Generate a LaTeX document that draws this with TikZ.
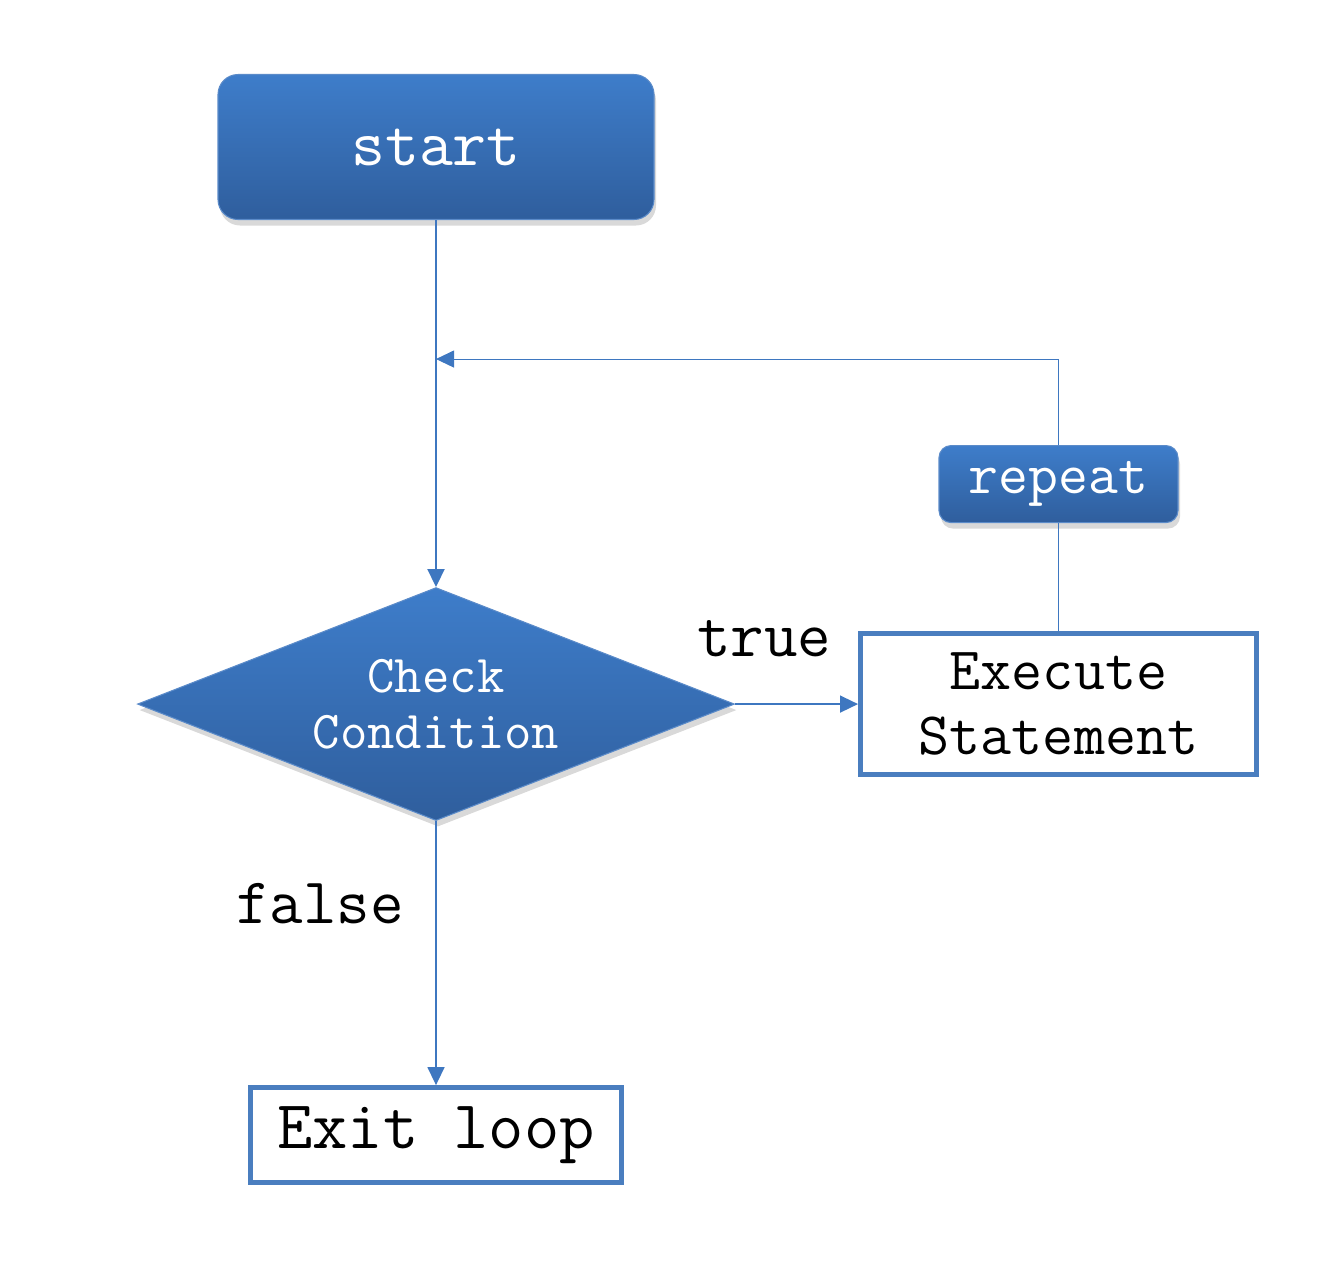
\documentclass[tikz,border=0pt]{standalone}
\usepackage{fontspec}
\usepackage{xcolor}
\definecolor{acc}{HTML}{3E77C0}
\definecolor{topc}{HTML}{3E7DCA}
\definecolor{botc}{HTML}{2F5E9D}
\definecolor{edge}{HTML}{4A7EBF}
\usetikzlibrary{arrows.meta,positioning,shapes.geometric,shadows}
\tikzset{
  >={Triangle[length=3.6mm,width=3.4mm]},
  blk/.style={draw=acc!85!white,line width=0.6pt,top color=topc,bottom color=botc,text=white,align=center,
    drop shadow={shadow xshift=0.4mm,shadow yshift=-1.2mm,opacity=0.3}},
  rbox/.style={blk,rounded corners=4mm,minimum width=8.72cm,minimum height=2.9cm,font=\ttfamily\fontsize{37.5}{45}\selectfont},
  sbox/.style={blk,rounded corners=2.4mm,minimum width=4.78cm,minimum height=1.54cm,font=\ttfamily\fontsize{33}{40}\selectfont},
  dia/.style={blk,diamond,aspect=2.56,inner sep=0pt,minimum width=11.94cm,minimum height=4.66cm,font=\ttfamily\fontsize{30.3}{32}\selectfont},
  obox/.style={draw=edge,line width=2.8pt,fill=white,align=center},
  lab/.style={font=\ttfamily\fontsize{37}{44}\selectfont,inner sep=0pt},
  arr/.style={->,draw=acc,line width=0.85pt},
  lin/.style={draw=acc,line width=0.6pt},
}
\begin{document}
\begin{tikzpicture}[node distance=2cm]
\useasboundingbox (0,0) rectangle (26.76,-25.56);
\node[rbox] (start) at (8.72,-2.94) {start};
\node[dia,below=7.34cm of start] (cond) {Check\\Condition};
\node[obox,minimum width=7.92cm,minimum height=2.82cm,right=2.46cm of cond,font=\ttfamily\fontsize{34.3}{37}\selectfont] (exec) {Execute\\Statement};
\node[sbox,above=2.16cm of exec] (rep) {repeat};
\node[obox,minimum width=7.42cm,minimum height=1.9cm,below=5.28cm of cond,font=\ttfamily\fontsize{39}{45}\selectfont] (exit) {Exit loop};
\coordinate[below=2.78cm of start] (join);
\node[lab] (true) at (15.28,-12.78) {true};
\node[lab] (false) at (6.4,-18.08) {false};
\draw[arr,line width=1.1pt] (start) -- (cond);
\draw[arr] (cond) -- (exec); \draw[arr] (cond) -- (exit);
\draw[lin] (exec) -- (rep); \draw[lin,->] (rep) |- (join);
\end{tikzpicture}
\end{document}
